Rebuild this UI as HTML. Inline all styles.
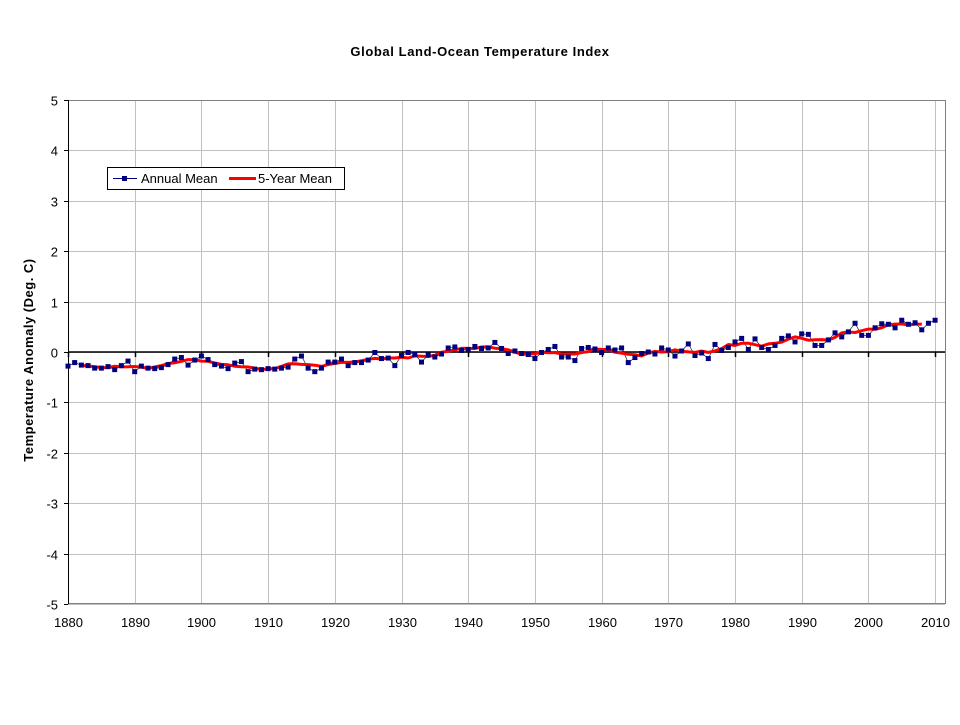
<!DOCTYPE html>
<html><head><meta charset="utf-8"><style>
html,body{margin:0;padding:0;background:#fff;}
svg text{font-family:"Liberation Sans",Arial,sans-serif;}
</style></head><body>
<svg id="s" width="960" height="720" xmlns="http://www.w3.org/2000/svg">
<rect width="960" height="720" fill="#fff"/>
<text x="480" y="56" font-size="13" font-weight="bold" letter-spacing="0.6" text-anchor="middle">Global Land-Ocean Temperature Index</text>
<text transform="translate(33,360) rotate(-90)" font-size="13" font-weight="bold" letter-spacing="0.5" text-anchor="middle">Temperature Anomaly (Deg. C)</text>
<g id="grid"></g>
<g id="data"></g>
<rect x="107.5" y="167.5" width="237" height="22" fill="#fff" stroke="#000"/>
<line x1="113" y1="178.5" x2="137" y2="178.5" stroke="#000080"/>
<rect x="122" y="176" width="5" height="5" fill="#000080"/>
<text x="141" y="183" font-size="13">Annual Mean</text>
<line x1="229" y1="178.5" x2="256" y2="178.5" stroke="#ff0000" stroke-width="3"/>
<text x="258" y="183" font-size="13">5-Year Mean</text>
</svg>
<script>
var ns="http://www.w3.org/2000/svg";
function el(p,t,a,txt){var e=document.createElementNS(ns,t);for(var k in a)e.setAttribute(k,a[k]);if(txt!=null)e.textContent=txt;p.appendChild(e);return e;}
var g=document.getElementById('grid'),d=document.getElementById('data');
var X0=68,XS=66.7/10,Y0=352,YS=50.4;
function X(y){return X0+(y-1880)*XS;}function Y(v){return Y0-v*YS;}
for(var i=-5;i<=5;i++){var y=Math.round(Y(i))+0.5;
 el(g,'line',{x1:68,x2:945,y1:y,y2:y,stroke:'#c0c0c0'});
 el(g,'line',{x1:64,x2:68,y1:y,y2:y,stroke:'#000'});
 el(g,'text',{x:58,y:y+5,'font-size':13,'text-anchor':'end'},i);}
for(var yr=1880;yr<=2010;yr+=10){var x=Math.round(X(yr))+0.5;
 if(yr>1880)el(g,'line',{x1:x,x2:x,y1:100,y2:604,stroke:'#c0c0c0'});
 el(g,'line',{x1:x,x2:x,y1:352,y2:357,stroke:'#000','stroke-width':1.5});
 el(g,'text',{x:x,y:627,'font-size':13,'text-anchor':'middle'},yr);}
el(g,'line',{x1:945.5,x2:945.5,y1:100,y2:604,stroke:'#808080'});
el(g,'line',{x1:68,x2:945,y1:100.5,y2:100.5,stroke:'#808080'});
el(g,'line',{x1:68,x2:945,y1:603.5,y2:603.5,stroke:'#808080'});
el(g,'line',{x1:68.5,x2:68.5,y1:100,y2:604,stroke:'#000'});
el(g,'line',{x1:68,x2:945,y1:352,y2:352,stroke:'#000','stroke-width':1.5});
var v=[-.28,-.21,-.26,-.27,-.32,-.32,-.29,-.35,-.27,-.18,-.39,-.28,-.32,-.33,-.31,-.25,-.14,-.11,-.26,-.16,-.08,-.15,-.25,-.28,-.33,-.22,-.19,-.39,-.34,-.35,-.33,-.34,-.32,-.30,-.14,-.08,-.32,-.39,-.32,-.2,-.2,-.14,-.27,-.21,-.21,-.16,-.01,-.13,-.12,-.27,-.07,-.01,-.05,-.2,-.06,-.1,-.04,.08,.1,.03,.05,.11,.07,.08,.19,.07,-.03,.02,-.03,-.05,-.13,-.01,.05,.11,-.1,-.1,-.17,.07,.09,.06,-.01,.08,.04,.08,-.21,-.11,-.03,0,-.04,.08,.04,-.08,.02,.16,-.07,-.02,-.13,.15,.03,.09,.2,.27,.05,.26,.09,.05,.13,.27,.32,.2,.36,.35,.13,.13,.24,.38,.3,.4,.57,.33,.33,.48,.56,.55,.48,.63,.55,.58,.44,.57,.63];
var p='';for(var i=0;i<v.length;i++)p+=(i?'L':'M')+X(1880+i).toFixed(1)+','+Y(v[i]).toFixed(1);
el(d,'path',{d:p,fill:'none',stroke:'#000',"stroke-width":0.6});
var q='';for(var i=2;i<v.length-2;i++){var m=(v[i-2]+v[i-1]+v[i]+v[i+1]+v[i+2])/5;q+=(i>2?'L':'M')+X(1880+i).toFixed(1)+','+Y(m).toFixed(1);}
el(d,'path',{d:q,fill:'none',stroke:'#ff0000','stroke-width':3,'stroke-linejoin':'round'});
for(var i=0;i<v.length;i++)el(d,'rect',{x:X(1880+i)-2.5,y:Y(v[i])-2.5,width:5,height:5,fill:'#000080'});
</script>
</body></html>
